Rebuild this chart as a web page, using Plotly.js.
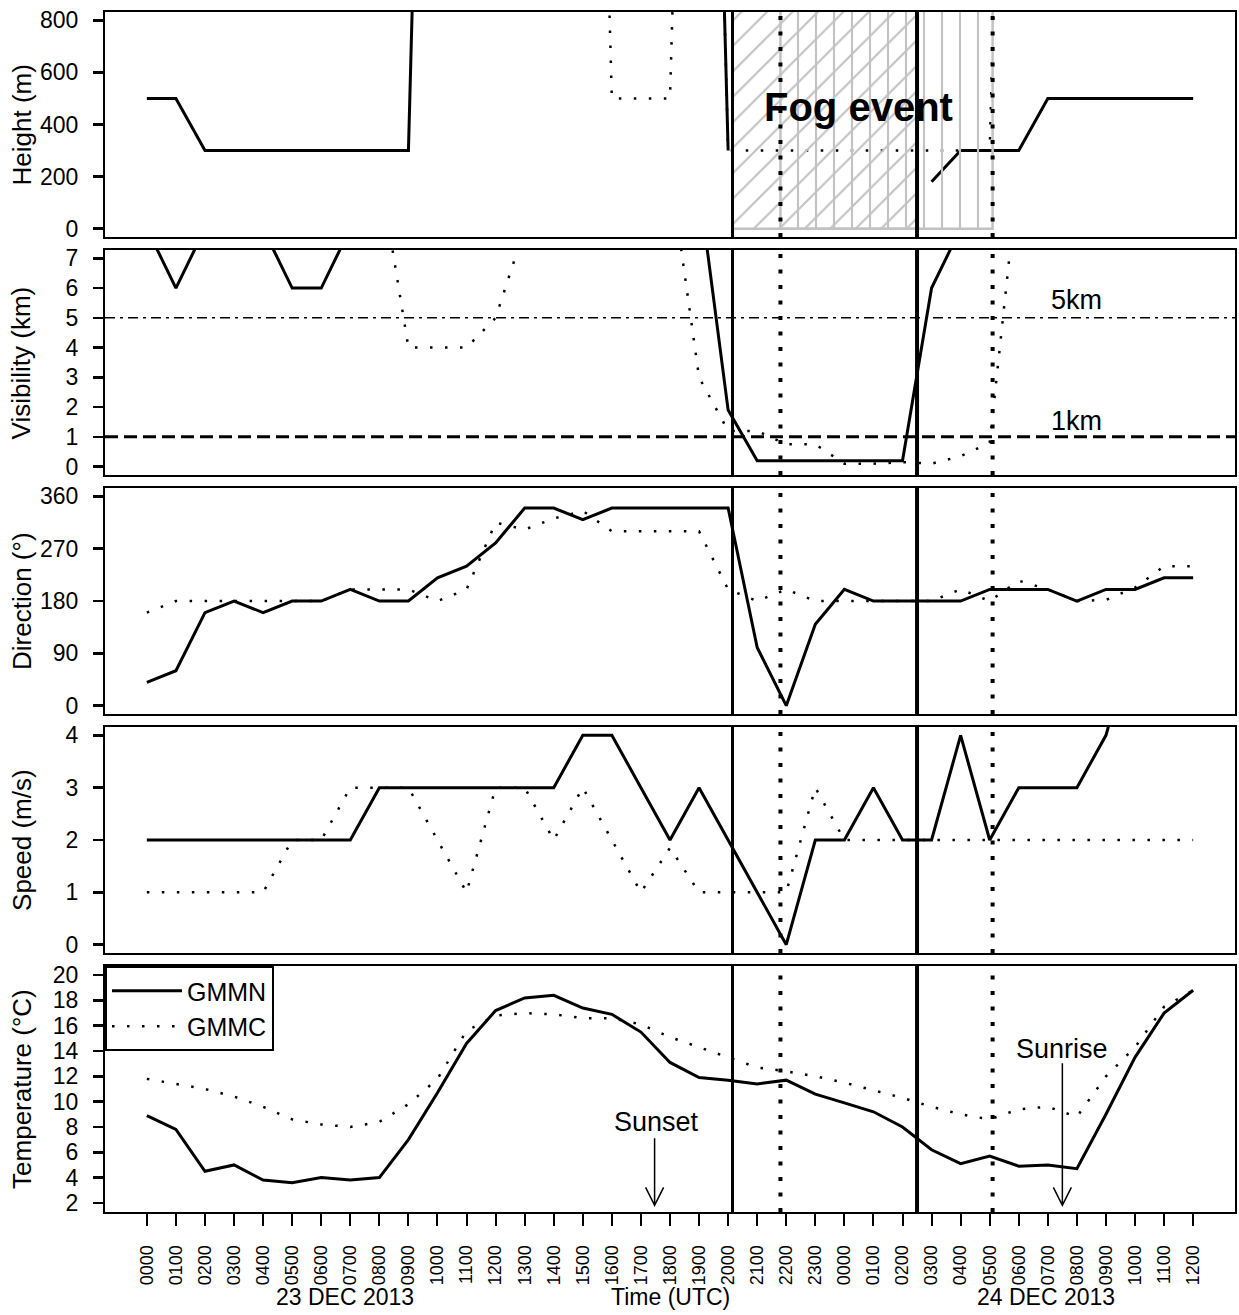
<!DOCTYPE html>
<html><head><meta charset="utf-8">
<script src="https://cdn.plot.ly/plotly-3.0.1.min.js"></script>
<style>body{margin:0;background:#fff}#chart{width:1239px;height:1315px}</style>
</head><body><div id="chart"></div>
<script>
// ---------------- DATA ----------------
const hours = [0,1,2,3,4,5,6,7,8,9,10,11,12,13,14,15,16,17,18,19,20,21,22,23,24,25,26,27,28,29,30,31,32,33,34,35,36];
const tickLabels = ["0000","0100","0200","0300","0400","0500","0600","0700","0800","0900","1000","1100","1200","1300","1400","1500","1600","1700","1800","1900","2000","2100","2200","2300","0000","0100","0200","0300","0400","0500","0600","0700","0800","0900","1000","1100","1200"];

// cloud base height (m); large values = no low cloud (off scale)
const heightGMMN = [500,500,300,300,300,300,300,300,300,300,4500,4500,4500,4500,4500,4500,4500,4500,4500,4500,300,null,null,null,null,null,null,180,300,300,300,500,500,500,500,500,500];
const heightGMMC = [4500,4500,4500,4500,4500,4500,4500,4500,4500,4500,4500,4500,4500,4500,4500,4500,500,500,500,4500,300,300,300,300,300,300,300,300,300,300,4500,4500,4500,4500,4500,4500,4500];

// visibility (km)
const visGMMN = [8,6,8,8,8,6,6,8,8,8,8,8,8,8,8,8,8,8,8,9.4,1.9,0.2,0.2,0.2,0.2,0.2,0.2,6,8,8,8,8,8,8,8,8,8];
const visGMMC = [10,10,10,10,10,10,10,10,10,4,4,4,5,8,10,10,10,10,10,3.0,1.2,1.2,0.75,0.75,0.1,0.1,0.15,0.1,0.35,0.8,10,10,10,10,10,10,10];
const visThresholds = [5, 1];
const visThresholdLabels = ["5km", "1km"];

// wind direction (deg)
const dirGMMN = [40,60,160,180,160,180,180,200,180,180,220,240,280,340,340,320,340,340,340,340,340,100,0,140,200,180,180,180,180,200,200,200,180,200,200,220,220];
const dirGMMC = [160,180,180,180,180,180,180,200,200,200,180,200,315,303,322,335,300,300,300,300,200,180,200,180,180,180,180,180,200,180,215,200,180,182,203,240,240];

// wind speed (m/s)
const speedGMMN = [2,2,2,2,2,2,2,2,3,3,3,3,3,3,3,4,4,3,2,3,2,1,0,2,2,3,2,2,4,2,3,3,3,4,6,6,6];
const speedGMMC = [1,1,1,1,1,2,2,3,3,3,2,1,3,3,2,3,2,1,1.85,1,1,1,1,3,2,2,2,2,2,2,2,2,2,2,2,2,2];

// temperature (deg C)
const tempGMMN = [8.9,7.8,4.5,5.0,3.8,3.6,4.0,3.8,4.0,7.0,10.7,14.6,17.2,18.2,18.4,17.4,16.9,15.5,13.1,11.9,11.7,11.4,11.7,10.6,9.9,9.2,8.0,6.2,5.1,5.7,4.9,5.0,4.7,9.0,13.5,17.0,18.8];
const tempGMMC = [11.8,11.4,11.0,10.4,9.6,8.6,8.2,8.0,8.4,9.8,11.8,15.6,16.8,17.0,16.9,16.6,16.6,16.1,15.1,14.3,13.5,12.7,12.4,12.0,11.5,10.9,10.3,9.6,9.0,8.6,9.4,9.6,8.8,12.0,14.3,17.5,18.8];

// fog event onset / end (hours since 0000 23 DEC)
const fogGMMN = [20.15, 26.5];
const fogGMMC = [21.8, 29.1];
// sunset / sunrise (hours since 0000 23 DEC)
const sunLabels = ["Sunset", "Sunrise"];
const sunTimes = [17.47, 31.5];

// ---------------- LAYOUT ----------------
const FONT = "Liberation Sans, Arial, Helvetica, sans-serif";
const XR = [-1.44, 37.44];
const panels = [
  {id:'', dom:[0.8125,1.0],     range:[-32,832],     tv:[0,200,400,600,800], title:'Height (m)',      a:heightGMMN, b:heightGMMC},
  {id:'2', dom:[0.6142,0.8017], range:[-0.28,7.28],  tv:[0,1,2,3,4,5,6,7],   title:'Visibility (km)', a:visGMMN, b:visGMMC},
  {id:'3', dom:[0.415,0.6033],  range:[-14.4,374.4], tv:[0,90,180,270,360],  title:'Direction (°)',   a:dirGMMN, b:dirGMMC},
  {id:'4', dom:[0.2158,0.4042], range:[-0.16,4.16],  tv:[0,1,2,3,4],         title:'Speed (m/s)',     a:speedGMMN, b:speedGMMC},
  {id:'5', dom:[0,0.205],       range:[1.28,20.72],  tv:[2,4,6,8,10,12,14,16,18,20], title:'Temperature (°C)', a:tempGMMN, b:tempGMMC}
];

const layout = {
  width:1239, height:1315,
  margin:{l:105, r:4, t:12, b:103},
  paper_bgcolor:'white', plot_bgcolor:'white',
  font:{family:FONT, color:'black'},
  showlegend:true,
  legend:{x:0, y:0.205, xanchor:'left', yanchor:'top', xref:'paper', yref:'paper',
          bordercolor:'black', borderwidth:2, bgcolor:'white',
          font:{size:25, family:FONT}, itemwidth:70, tracegroupgap:0},
  shapes:[], annotations:[]
};

const traces = [];
const DOT = '2.5px,12.5px';

panels.forEach((p, i) => {
  const xa = 'xaxis' + p.id, ya = 'yaxis' + p.id;
  const xr = 'x' + p.id, yr = 'y' + p.id;
  const bottom = (i === panels.length - 1);
  layout[xa] = {
    domain:[0,1], range:XR, anchor:yr, showline:true, mirror:true, linecolor:'black', linewidth:2,
    showgrid:false, zeroline:false, automargin:false,
    ticks: bottom ? 'outside' : '', ticklen:12, tickwidth:2, tickcolor:'black',
    tickmode:'array', tickvals:hours, ticktext:tickLabels, showticklabels:bottom,
    tickangle:-90, tickfont:{size:18, family:FONT}, ticklabelstandoff:12
  };
  layout[ya] = {
    domain:p.dom, range:p.range, anchor:xr, showline:true, mirror:true, linecolor:'black', linewidth:2,
    showgrid:false, zeroline:false, automargin:false, ticks:'outside', ticklen:10, tickwidth:2.5, tickcolor:'black',
    tickmode:'array', tickvals:p.tv, tickfont:{size:23, family:FONT}, ticklabelstandoff:10
  };
  traces.push({x:hours, y:p.a, xaxis:xr, yaxis:yr, mode:'lines', name:'GMMN', showlegend:bottom,
               line:{color:'black', width:3}, connectgaps:false, hoverinfo:'skip'});
  traces.push({x:hours, y:p.b, xaxis:xr, yaxis:yr, mode:'lines', name:'GMMC', showlegend:bottom,
               line:{color:'black', width:2.5, dash:DOT}, hoverinfo:'skip'});
  // y title
  layout.annotations.push({xref:'paper', yref:'paper', x:-0.0735, y:(p.dom[0]+p.dom[1])/2,
    text:p.title, textangle:-90, showarrow:false, xanchor:'center', yanchor:'middle',
    font:{size:26, family:FONT}});
  // event lines
  const ydom = yr + ' domain';
  layout.shapes.push({type:'line', xref:xr, yref:ydom, x0:fogGMMN[0], x1:fogGMMN[0], y0:0, y1:1, layer:'above', line:{color:'black', width:3}});
  layout.shapes.push({type:'line', xref:xr, yref:ydom, x0:fogGMMN[1], x1:fogGMMN[1], y0:0, y1:1, layer:'above', line:{color:'black', width:4}});
  layout.shapes.push({type:'line', xref:xr, yref:ydom, x0:fogGMMC[0], x1:fogGMMC[0], y0:0, y1:1, layer:'above', line:{color:'black', width:4, dash:'4px,11.5px'}});
  layout.shapes.push({type:'line', xref:xr, yref:ydom, x0:fogGMMC[1], x1:fogGMMC[1], y0:0, y1:1, layer:'above', line:{color:'black', width:4, dash:'4px,11.5px'}});
});

// fog event hatched boxes in height panel
function box(se, shape) {
  return {x:[se[0], se[1], se[1], se[0], se[0]], y:[0, 0, 3000, 3000, 0], xaxis:'x', yaxis:'y',
    mode:'lines', fill:'toself', fillcolor:'rgba(0,0,0,0)',
    fillpattern:{shape:shape, fgcolor:'#c2c2c2', bgcolor:'rgba(0,0,0,0)', size:18, solidity:0.12},
    line:{color:'#c2c2c2', width:2.5}, showlegend:false, hoverinfo:'skip'};
}
traces.push(box(fogGMMN, '/'));
traces.push(box(fogGMMC, '|'));

layout.annotations.push({xref:'x', yref:'y', x:24.48, y:466, text:'<b>Fog event</b>', showarrow:false,
  xanchor:'center', yanchor:'middle', font:{size:40, family:FONT}});

// visibility thresholds
const thrDash = ['10px,5px,3px,5px', '13px,6px'];
const thrWidth = [1.5, 3];
const thrLabY = [5.6, 1.53];
visThresholds.forEach((v, k) => {
  layout.shapes.push({type:'line', xref:'x2 domain', yref:'y2', x0:0, x1:1, y0:v, y1:v, layer:'below',
    line:{color:'black', width:thrWidth[k], dash:thrDash[k]}});
  layout.annotations.push({xref:'x2', yref:'y2', x:32.0, y:thrLabY[k], text:visThresholdLabels[k],
    showarrow:false, xanchor:'center', yanchor:'middle', font:{size:27, family:FONT}});
});

// sunset / sunrise arrows
const arrowLen = [67, 142];
const labY = [8.38, 14.15];
const labX = [17.54, 31.5];
sunTimes.forEach((t, k) => {
  layout.shapes.push({type:'path', xref:'x5', yref:'y5', xsizemode:'pixel', ysizemode:'pixel',
    xanchor:t, yanchor:1.81,
    path:'M0,0L0,' + arrowLen[k] + 'M-9,18L0,0L9,18', line:{color:'black', width:1.5}});
  layout.annotations.push({xref:'x5', yref:'y5', x:labX[k], y:labY[k], text:sunLabels[k], showarrow:false,
    xanchor:'center', yanchor:'middle', font:{size:27, family:FONT}});
});

// date + axis labels
const lab = (x, t) => ({xref:'x5', yref:'paper', x:x, y:-0.0708, text:t, showarrow:false,
  xanchor:'center', yanchor:'middle', font:{size:23, family:FONT}});
layout.annotations.push(lab(6.81, '23 DEC 2013'));
layout.annotations.push(lab(18.0, 'Time (UTC)'));
layout.annotations.push(lab(30.95, '24 DEC 2013'));

Plotly.newPlot('chart', traces, layout, {staticPlot:true, displayModeBar:false});
</script>
</body></html>
